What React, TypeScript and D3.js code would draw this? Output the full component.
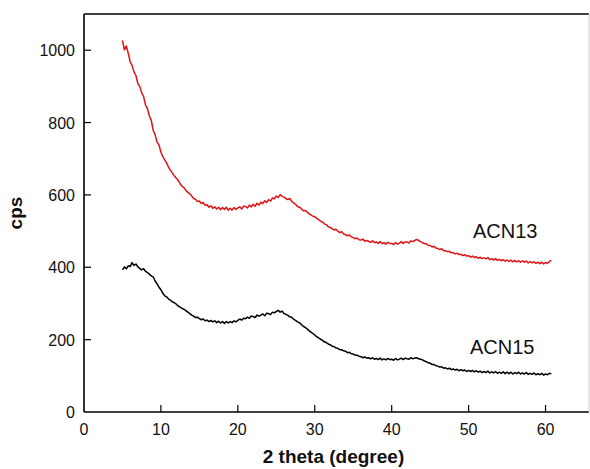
import React from "react";
import * as d3 from "d3";

const theta0 = 5;
const thetaStep = 0.25;

const acn13: number[] = [
  1027, 1001, 1012, 992,
  968, 958, 940, 930,
  908, 900, 882, 872,
  848, 838, 818, 806,
  778, 766, 746, 738,
  718, 706, 697, 688,
  676, 668, 660, 652,
  646, 640, 631, 624,
  620, 612, 607, 603,
  597, 590, 588, 582,
  583, 576, 579, 571,
  573, 566, 570, 563,
  567, 561, 566, 559,
  565, 560, 566, 558,
  563, 558, 565, 560,
  564, 567, 561, 569,
  568, 564, 572, 567,
  574, 569, 577, 572,
  580, 576, 584, 579,
  587, 583, 592, 589,
  597, 593, 601, 596,
  594, 590, 587, 590,
  582, 578, 574, 568,
  566, 562, 556, 557,
  553, 548, 545, 541,
  540, 535, 532, 527,
  525, 520, 518, 512,
  510, 507, 503, 505,
  500, 496, 498, 492,
  490, 487, 489, 484,
  482, 479, 481, 476,
  475, 478, 472, 474,
  472, 469, 473, 468,
  470, 466, 471, 465,
  468, 464, 469, 466,
  466, 463, 468, 464,
  467, 471, 466, 470,
  470, 467, 473, 471,
  474, 477, 474, 471,
  468, 465, 465, 460,
  460, 456, 458, 453,
  452, 449, 451, 446,
  446, 443, 444, 440,
  440, 437, 439, 435,
  436, 432, 435, 431,
  432, 428, 431, 427,
  429, 425, 428, 424,
  426, 423, 427, 421,
  424, 420, 424, 419,
  422, 418, 421, 417,
  420, 416, 420, 415,
  419, 415, 418, 414,
  418, 414, 417, 412,
  416, 412, 415, 411,
  414, 410, 414, 409,
  413, 411, 416, 419,
];

const acn15: number[] = [
  393, 401, 396, 404,
  402, 413, 405, 409,
  401, 397, 393, 396,
  389, 385, 381, 376,
  373, 362, 354, 345,
  338, 328, 321, 318,
  312, 309, 304, 302,
  298, 293, 290, 286,
  284, 280, 276, 272,
  268, 265, 261, 262,
  258, 255, 257, 252,
  254, 250, 253, 249,
  252, 247, 251, 246,
  250, 245, 250, 246,
  250, 247, 252, 249,
  253, 257, 254, 259,
  258, 262, 259, 265,
  264, 261, 268, 265,
  268, 271, 266, 273,
  272, 269, 276, 274,
  278, 281, 276, 279,
  272, 270, 267, 263,
  262, 256, 253, 249,
  247, 242, 237, 234,
  230, 225, 221, 217,
  213, 208, 205, 201,
  198, 194, 192, 188,
  186, 182, 181, 177,
  176, 172, 172, 169,
  168, 164, 165, 161,
  160, 157, 157, 154,
  153, 150, 152, 149,
  150, 147, 150, 146,
  148, 145, 149, 144,
  147, 144, 148, 145,
  146, 143, 148, 144,
  146, 149, 145, 149,
  147, 146, 150, 147,
  149, 150, 147, 146,
  144, 141, 139, 136,
  135, 131, 131, 128,
  127, 124, 125, 121,
  122, 119, 121, 117,
  119, 116, 118, 114,
  117, 114, 116, 112,
  115, 112, 115, 111,
  114, 110, 113, 109,
  112, 109, 113, 108,
  111, 108, 112, 107,
  110, 107, 111, 106,
  110, 106, 110, 105,
  109, 106, 110, 105,
  108, 105, 109, 104,
  107, 104, 108, 103,
  106, 103, 107, 102,
  105, 103, 107, 106,
];

const xTicks = [0, 10, 20, 30, 40, 50, 60];
const yTicks = [0, 200, 400, 600, 800, 1000];
const seriesNames = ["ACN13", "ACN15"];

const W = 590;
const H = 469;
const left = 84;
const right = 589;
const top = 14;
const bottom = 412;
const font = "'Liberation Sans', Arial, sans-serif";

export default function App() {
  const x = d3.scaleLinear().domain([0, 65.65]).range([left, right]);
  const y = d3.scaleLinear().domain([0, 1100]).range([bottom, top]);

  const line = d3
    .line<number>()
    .x((_, i) => x(theta0 + i * thetaStep))
    .y((v) => y(v));

  return (
    <svg
      width={W}
      height={H}
      style={{ position: "absolute", left: 0, top: 0, background: "#fff" }}
      fontFamily={font}
    >
      <rect x={0} y={0} width={W} height={H} fill="#fff" />
      <path d={line(acn13) || ""} fill="none" stroke="#e01414" strokeWidth={1.5} strokeLinejoin="round" />
      <path d={line(acn15) || ""} fill="none" stroke="#000" strokeWidth={1.5} strokeLinejoin="round" />

      {/* frame */}
      <line x1={left} x2={right} y1={top} y2={top} stroke="#000" strokeWidth={1.6} />
      <line x1={left} x2={right} y1={bottom} y2={bottom} stroke="#000" strokeWidth={1.6} />
      <line x1={left} x2={left} y1={top} y2={bottom} stroke="#000" strokeWidth={1.6} />
      <line x1={right} x2={right} y1={top} y2={bottom} stroke="#ccc" strokeWidth={1} />

      {xTicks.map((t) => (
        <g key={"x" + t}>
          {t > 0 && (
            <line x1={x(t)} x2={x(t)} y1={bottom} y2={bottom - 7} stroke="#000" strokeWidth={1.2} />
          )}
          <text x={x(t)} y={435} fontSize={16} textAnchor="middle" fill="#111">
            {t}
          </text>
        </g>
      ))}
      {yTicks.map((t) => (
        <g key={"y" + t}>
          {t > 0 && (
            <line x1={left} x2={left + 7} y1={y(t)} y2={y(t)} stroke="#000" strokeWidth={1.2} />
          )}
          <text x={75} y={y(t) + 6} fontSize={16} textAnchor="end" fill="#111">
            {t}
          </text>
        </g>
      ))}

      <text x={(left + right) / 2 - 3} y={463} fontSize={19} fontWeight="bold" textAnchor="middle" fill="#111">
        2 theta (degree)
      </text>
      <text
        transform={`translate(21.5,${(top + bottom) / 2}) rotate(-90)`}
        fontSize={19}
        fontWeight="bold"
        textAnchor="middle"
        fill="#111"
      >
        cps
      </text>

      <text x={473} y={238} fontSize={20} fill="#111">
        {seriesNames[0]}
      </text>
      <text x={470} y={354} fontSize={20} fill="#111">
        {seriesNames[1]}
      </text>
    </svg>
  );
}
